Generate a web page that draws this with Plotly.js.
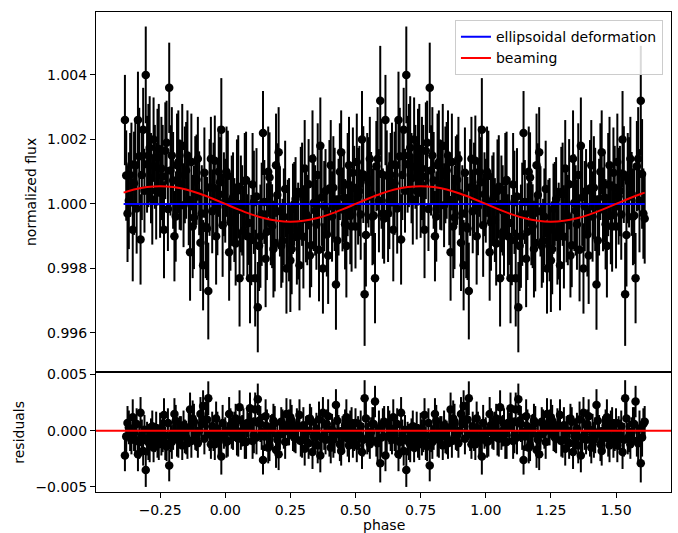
<!DOCTYPE html>
<html>
<head>
<meta charset="utf-8">
<script src="https://cdn.plot.ly/plotly-3.0.1.min.js"></script>
<style>html,body{margin:0;padding:0;background:#fff;}#chart{width:678px;height:533px;}</style>
</head>
<body>
<div id="chart"></div>
<script>
// ---- data ----
var phaseA = [-0.385,-0.375,-0.365,-0.355,-0.345,-0.335,-0.325,-0.315,-0.305,-0.295,
-0.285,-0.275,-0.265,-0.255,-0.245,-0.235,-0.225,-0.215,-0.205,-0.195,
-0.185,-0.175,-0.165,-0.155,-0.145,-0.135,-0.125,-0.115,-0.105,-0.095,
-0.085,-0.075,-0.065,-0.055,-0.045,-0.035,-0.025,-0.015,-0.005,0.005,
0.015,0.025,0.035,0.045,0.055,0.065,0.075,0.085,0.095,0.105,
0.115,0.125,0.135,0.145,0.155,0.165,0.175,0.185,0.195,0.205,
0.215,0.225,0.235,0.245,0.255,0.265,0.275,0.285,0.295,0.305,
0.315,0.325,0.335,0.345,0.355,0.365,0.375,0.385,0.395,0.405,
0.415,0.425,0.435,0.445,0.455,0.465,0.475,0.485,0.495,0.505,
0.515,0.525,0.535,0.545,0.555,0.565,0.575,0.585,0.595,0.605];

var phaseB = [0.615,0.625,0.635,0.645,0.655,0.665,0.675,0.685,0.695,0.705,
0.715,0.725,0.735,0.745,0.755,0.765,0.775,0.785,0.795,0.805,
0.815,0.825,0.835,0.845,0.855,0.865,0.875,0.885,0.895,0.905,
0.915,0.925,0.935,0.945,0.955,0.965,0.975,0.985,0.995,1.005,
1.015,1.025,1.035,1.045,1.055,1.065,1.075,1.085,1.095,1.105,
1.115,1.125,1.135,1.145,1.155,1.165,1.175,1.185,1.195,1.205,
1.215,1.225,1.235,1.245,1.255,1.265,1.275,1.285,1.295,1.305,
1.315,1.325,1.335,1.345,1.355,1.365,1.375,1.385,1.395,1.405,
1.415,1.425,1.435,1.445,1.455,1.465,1.475,1.485,1.495,1.505,
1.515,1.525,1.535,1.545,1.555,1.565,1.575,1.585,1.595,1.605];

var phaseC = [-0.380,-0.370,-0.360,-0.350,-0.340,-0.330,-0.320,-0.310,-0.300,-0.290,
-0.280,-0.270,-0.260,-0.250,-0.240,-0.230,-0.220,-0.210,-0.200,-0.190,
-0.180,-0.170,-0.160,-0.150,-0.140,-0.130,-0.120,-0.110,-0.100,-0.090,
-0.080,-0.070,-0.060,-0.050,-0.040,-0.030,-0.020,-0.010,0.000,0.010,
0.020,0.030,0.040,0.050,0.060,0.070,0.080,0.090,0.100,0.110,
0.120,0.130,0.140,0.150,0.160,0.170,0.180,0.190,0.200,0.210,
0.220,0.230,0.240,0.250,0.260,0.270,0.280,0.290,0.300,0.310,
0.320,0.330,0.340,0.350,0.360,0.370,0.380,0.390,0.400,0.410,
0.420,0.430,0.440,0.450,0.460,0.470,0.480,0.490,0.500,0.510,
0.520,0.530,0.540,0.550,0.560,0.570,0.580,0.590,0.600,0.610];

var phaseD = [0.620,0.630,0.640,0.650,0.660,0.670,0.680,0.690,0.700,0.710,
0.720,0.730,0.740,0.750,0.760,0.770,0.780,0.790,0.800,0.810,
0.820,0.830,0.840,0.850,0.860,0.870,0.880,0.890,0.900,0.910,
0.920,0.930,0.940,0.950,0.960,0.970,0.980,0.990,1.000,1.010,
1.020,1.030,1.040,1.050,1.060,1.070,1.080,1.090,1.100,1.110,
1.120,1.130,1.140,1.150,1.160,1.170,1.180,1.190,1.200,1.210,
1.220,1.230,1.240,1.250,1.260,1.270,1.280,1.290,1.300,1.310,
1.320,1.330,1.340,1.350,1.360,1.370,1.380,1.390,1.400,1.410,
1.420,1.430,1.440,1.450,1.460,1.470,1.480,1.490,1.500,1.510,
1.520,1.530,1.540,1.550,1.560,1.570,1.580,1.590,1.600,1.610];

var fluxA = [1.0026,0.9997,1.0009,0.9992,1.0012,1.0026,0.9989,1.0023,1.0040,1.0015,
1.0008,1.0020,1.0004,1.0017,1.0011,0.9992,1.0019,1.0036,1.0015,0.9990,
1.0012,1.0006,1.0018,1.0009,1.0015,0.9985,0.9993,1.0007,1.0014,0.9988,
0.9981,0.9993,0.9973,1.0014,1.0005,0.9990,1.0010,1.0023,1.0003,1.0010,
0.9985,1.0001,0.9995,1.0004,0.9977,0.9998,1.0007,0.9990,0.9977,1.0006,
0.9977,0.9968,0.9990,1.0022,0.9983,1.0010,0.9994,0.9986,1.0012,1.0016,
0.9987,0.9996,0.9980,0.9992,0.9986,1.0000,0.9990,0.9981,1.0003,1.0011,
0.9995,0.9984,1.0014,0.9998,1.0009,1.0018,0.9980,1.0004,0.9984,1.0012,
1.0005,0.9975,0.9999,1.0016,1.0002,0.9987,1.0012,0.9993,1.0005,1.0013,
1.0004,1.0020,0.9972,1.0008,1.0014,0.9996,0.9977,1.0014,1.0032,0.9997];

var fluxC = [1.00088,1.00010,1.00122,1.00064,0.99986,1.00148,1.00090,1.00041,1.00123,1.00174,
1.00014,1.00115,1.00145,1.00035,1.00085,1.00165,0.99984,1.00104,1.00073,0.99961,
1.00130,1.00058,0.99996,1.00104,1.00012,1.00130,0.99958,1.00075,1.00033,0.99970,
1.00097,0.99924,1.00051,0.99977,1.00134,0.99991,1.00067,0.99934,1.00010,1.00087,
0.99943,1.00020,0.99877,1.00053,1.00000,0.99917,1.00074,0.99941,0.99888,1.00005,
1.00023,0.99870,0.99968,1.00006,0.99914,1.00082,0.99931,0.99879,1.00028,0.99977,
0.99886,1.00046,0.99935,0.99825,0.99985,1.00015,0.99916,1.00037,0.99898,0.99969,
1.00061,0.99872,1.00004,0.99936,0.99858,1.00020,0.99993,0.99905,1.00048,0.99961,
1.00014,0.99887,1.00100,0.99983,0.99937,1.00060,0.99963,1.00097,0.99930,1.00024,
0.99967,1.00091,0.99904,1.00067,1.00031,0.99964,1.00117,1.00010,1.00093,0.99955];

var fluxErr = [0.0014,0.0015,0.0013,0.0016,0.0014,0.0015,0.0014,0.0013,0.0015,0.0016,
0.0014,0.0013,0.0015,0.0014,0.0016,0.0015,0.0013,0.0014,0.0015,0.0014,
0.0016,0.0014,0.0013,0.0015,0.0014,0.0015,0.0016,0.0014,0.0013,0.0015,
0.0014,0.0016,0.0015,0.0013,0.0014,0.0015,0.0014,0.0016,0.0013,0.0014,
0.0015,0.0014,0.0013,0.0016,0.0015,0.0014,0.0015,0.0013,0.0014,0.0016,
0.0015,0.0014,0.0016,0.0013,0.0015,0.0014,0.0013,0.0015,0.0016,0.0014,
0.0013,0.0015,0.0014,0.0016,0.0014,0.0013,0.0015,0.0014,0.0016,0.0015,
0.0014,0.0013,0.0015,0.0014,0.0016,0.0015,0.0014,0.0013,0.0015,0.0014,
0.0016,0.0014,0.0015,0.0013,0.0014,0.0016,0.0015,0.0014,0.0013,0.0015,
0.0014,0.0015,0.0016,0.0014,0.0013,0.0015,0.0014,0.0016,0.0017,0.0014];

var residA = [-0.0022,0.0007,-0.0005,0.0012,-0.0008,-0.0021,0.0016,-0.0018,-0.0035,-0.0010,
-0.0003,-0.0015,0.0002,-0.0012,-0.0006,0.0014,-0.0014,-0.0031,-0.0010,0.0015,
-0.0007,-0.0001,-0.0013,-0.0005,-0.0011,0.0019,0.0011,-0.0003,-0.0011,0.0015,
0.0022,0.0010,0.0029,-0.0012,-0.0004,0.0011,-0.0009,-0.0023,-0.0003,-0.0010,
0.0015,-0.0002,0.0004,-0.0006,0.0021,0.0000,-0.0010,0.0007,0.0020,-0.0009,
0.0019,0.0028,0.0006,-0.0026,0.0013,-0.0015,0.0001,0.0009,-0.0017,-0.0021,
0.0008,-0.0001,0.0015,0.0003,0.0009,-0.0006,0.0005,0.0014,-0.0008,-0.0016,
0.0000,0.0011,-0.0019,-0.0003,-0.0013,-0.0022,0.0016,-0.0008,0.0013,-0.0015,
-0.0008,0.0023,-0.0001,-0.0018,-0.0004,0.0012,-0.0013,0.0007,-0.0005,-0.0013,
-0.0004,-0.0019,0.0029,-0.0007,-0.0012,0.0006,0.0026,-0.0011,-0.0029,0.0006];

var residC = [-0.0005,0.0003,-0.0008,-0.0002,0.0006,-0.0010,-0.0004,0.0001,-0.0007,-0.0012,
0.0004,-0.0006,-0.0009,0.0002,-0.0003,-0.0011,0.0007,-0.0005,-0.0002,0.0009,
-0.0008,-0.0001,0.0005,-0.0006,0.0003,-0.0009,0.0008,-0.0004,0.0000,0.0006,
-0.0007,0.0010,-0.0003,0.0004,-0.0012,0.0002,-0.0006,0.0007,-0.0001,-0.0009,
0.0005,-0.0003,0.0011,-0.0007,-0.0002,0.0006,-0.0010,0.0003,0.0008,-0.0004,
-0.0006,0.0009,-0.0001,-0.0005,0.0004,-0.0013,0.0002,0.0007,-0.0008,-0.0003,
0.0006,-0.0010,0.0001,0.0012,-0.0004,-0.0007,0.0003,-0.0009,0.0005,-0.0002,
-0.0011,0.0008,-0.0005,0.0002,0.0010,-0.0006,-0.0003,0.0006,-0.0008,0.0001,
-0.0004,0.0009,-0.0012,0.0000,0.0005,-0.0007,0.0003,-0.0010,0.0007,-0.0002,
0.0004,-0.0008,0.0011,-0.0005,-0.0001,0.0006,-0.0009,0.0002,-0.0006,0.0008];

var modelPhase = [-0.39,-0.35,-0.30,-0.25,-0.20,-0.15,-0.10,-0.05,0.00,0.05,
0.10,0.15,0.20,0.25,0.30,0.35,0.40,0.45,0.50,0.55,
0.60,0.65,0.70,0.75,0.80,0.85,0.90,0.95,1.00,1.05,
1.10,1.15,1.20,1.25,1.30,1.35,1.40,1.45,1.50,1.55,
1.60,1.61];

var ellipsoidal = [1.0,1.0,1.0,1.0,1.0,1.0,1.0,1.0,1.0,1.0,
1.0,1.0,1.0,1.0,1.0,1.0,1.0,1.0,1.0,1.0,
1.0,1.0,1.0,1.0,1.0,1.0,1.0,1.0,1.0,1.0,
1.0,1.0,1.0,1.0,1.0,1.0,1.0,1.0,1.0,1.0,
1.0,1.0];

var beaming = [1.00035,1.000445,1.000523,1.00055,1.000523,1.000445,1.000323,1.00017,1.0,0.99983,
0.999677,0.999555,0.999477,0.99945,0.999477,0.999555,0.999677,0.99983,1.0,1.00017,
1.000323,1.000445,1.000523,1.00055,1.000523,1.000445,1.000323,1.00017,1.0,0.99983,
0.999677,0.999555,0.999477,0.99945,0.999477,0.999555,0.999677,0.99983,1.0,1.00017,
1.000323,1.00035];

var xTicks = [-0.25,0.00,0.25,0.50,0.75,1.00,1.25,1.50];
var fluxTicks = [0.996,0.998,1.000,1.002,1.004];
var residTicks = [-0.005,0.000,0.005];
var legendNames = ['ellipsoidal deformation','beaming'];

// ---- figure ----
var allPhase = phaseA.concat(phaseC, phaseB, phaseD);
var allFlux = fluxA.concat(fluxC, fluxA, fluxC);
var allResid = residA.concat(residC, residA, residC);
var allErr = fluxErr.concat(fluxErr, fluxErr, fluxErr);
var FONT = 'DejaVu Sans, sans-serif';

var traces = [
  {x: allPhase, y: allFlux, xaxis:'x', yaxis:'y', type:'scatter', mode:'markers',
   marker:{color:'black', size:8.5}, showlegend:false, hoverinfo:'skip',
   error_y:{type:'data', array: allErr, visible:true, color:'black', thickness:2, width:0}},
  {x: modelPhase, y: ellipsoidal, xaxis:'x', yaxis:'y', type:'scatter', mode:'lines',
   name: legendNames[0], line:{color:'#0000ff', width:2}},
  {x: modelPhase, y: beaming, xaxis:'x', yaxis:'y', type:'scatter', mode:'lines',
   name: legendNames[1], line:{color:'#ff0000', width:2, shape:'spline', smoothing:1}},
  {x: allPhase, y: allResid, xaxis:'x2', yaxis:'y2', type:'scatter', mode:'markers',
   marker:{color:'black', size:8.5}, showlegend:false, hoverinfo:'skip',
   error_y:{type:'data', array: allErr, visible:true, color:'black', thickness:2, width:0}}
];

var xr = [-0.496, 1.711];
var axBase = {showline:true, mirror:true, linecolor:'black', linewidth:1, showgrid:false, zeroline:false,
  ticks:'outside', ticklen:5, tickwidth:1, tickcolor:'black', tickfont:{family:FONT, size:14, color:'black'}};

var layout = {
  width:678, height:533,
  margin:{l:96, r:7, t:12, b:41, pad:0},
  paper_bgcolor:'white', plot_bgcolor:'white',
  font:{family:FONT, size:14, color:'black'},
  showlegend:true,
  legend:{x:0.986, y:0.983, xanchor:'right', yanchor:'top', bgcolor:'rgba(255,255,255,0.85)',
    bordercolor:'#cccccc', borderwidth:1, font:{family:FONT, size:14, color:'black'}, itemwidth:30},
  xaxis: Object.assign({}, axBase, {domain:[0,1], anchor:'y', range:xr, showticklabels:false, ticks:''}),
  yaxis: Object.assign({}, axBase, {domain:[0.25,1], anchor:'x', range:[0.99479,1.00595],
    tickvals:fluxTicks, tickformat:'.3f'}),
  xaxis2: Object.assign({}, axBase, {domain:[0,1], anchor:'y2', range:xr, tickvals:xTicks, tickformat:'.2f'}),
  yaxis2: Object.assign({}, axBase, {domain:[0,0.25], anchor:'x2', range:[-0.00545,0.00523],
    tickvals:residTicks, tickformat:'.3f'}),
  shapes:[{type:'line', xref:'paper', x0:0, x1:1, yref:'y2', y0:0, y1:0, layer:'above',
    line:{color:'#ff0000', width:2}}],
  annotations:[
    {text:'normalized flux', xref:'paper', yref:'paper', x:-0.113, y:0.625, textangle:-90,
     showarrow:false, xanchor:'center', yanchor:'middle', font:{family:FONT, size:14, color:'black'}},
    {text:'residuals', xref:'paper', yref:'paper', x:-0.1344, y:0.125, textangle:-90,
     showarrow:false, xanchor:'center', yanchor:'middle', font:{family:FONT, size:14, color:'black'}},
    {text:'phase', xref:'paper', yref:'paper', x:0.5, y:-0.069,
     showarrow:false, xanchor:'center', yanchor:'middle', font:{family:FONT, size:14, color:'black'}}
  ]
};

Plotly.newPlot('chart', traces, layout, {staticPlot:true, displayModeBar:false});
</script>
</body>
</html>
